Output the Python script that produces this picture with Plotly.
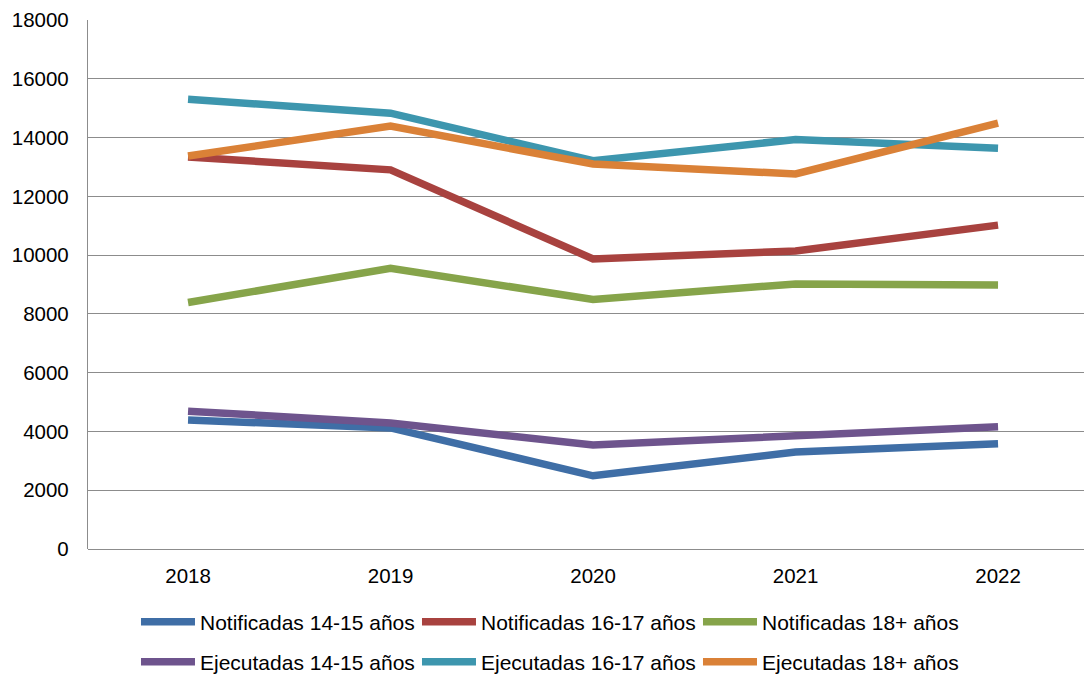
import plotly.graph_objects as go

years = ["2018", "2019", "2020", "2021", "2022"]
series_names = [
    "Notificadas 14-15 años",
    "Notificadas 16-17 años",
    "Notificadas 18+ años",
    "Ejecutadas 14-15 años",
    "Ejecutadas 16-17 años",
    "Ejecutadas 18+ años",
]
notif_14_15 = [4390, 4120, 2490, 3300, 3580]
notif_16_17 = [13340, 12900, 9870, 10140, 11020]
notif_18 = [8390, 9550, 8490, 9020, 8980]
ejec_14_15 = [4690, 4290, 3540, 3880, 4160]
ejec_16_17 = [15300, 14830, 13210, 13930, 13640]
ejec_18 = [13370, 14390, 13100, 12760, 14490]
values = [notif_14_15, notif_16_17, notif_18, ejec_14_15, ejec_16_17, ejec_18]
colors = ["#3F6EA6", "#A8423F", "#86A44A", "#6E548D", "#3D96AE", "#DA8137"]
y_ticks = [0, 2000, 4000, 6000, 8000, 10000, 12000, 14000, 16000, 18000]

font_family = "Liberation Sans, Arial, sans-serif"

fig = go.Figure()
for i, (name, vals, col) in enumerate(zip(series_names, values, colors)):
    fig.add_trace(go.Scatter(
        x=years, y=vals, name=name, mode="lines",
        line=dict(color=col, width=7.5),
        legend="legend" if i < 3 else "legend2",
    ))

legend_common = dict(
    orientation="h", xanchor="left", yanchor="middle",
    font=dict(family=font_family, size=21, color="#000000"),
    entrywidth=212, entrywidthmode="pixels",
    itemwidth=54,
    bgcolor="rgba(0,0,0,0)",
    traceorder="normal",
)

# page body has an 8px default margin, so the figure is sized to fit the window
fig.update_layout(
    width=1084, height=667,
    margin=dict(l=80, r=0, t=12, b=126, autoexpand=False),
    paper_bgcolor="white", plot_bgcolor="white",
    font=dict(family=font_family, size=20.5, color="#000000"),
    showlegend=True,
    legend=dict(x=0.0478, y=-0.138, **legend_common),
    legend2=dict(x=0.0478, y=-0.2136, **legend_common),
    xaxis=dict(
        type="category", range=[-0.494, 4.464],
        showgrid=False, showline=False, zeroline=False,
        ticks="", ticklabelstandoff=12,
        tickfont=dict(family=font_family, size=20.5, color="#000000"),
        fixedrange=True,
    ),
    yaxis=dict(
        range=[0, 18000], tickvals=y_ticks,
        ticktext=[str(v) for v in y_ticks],
        showgrid=True, gridcolor="#8C8C8C", gridwidth=1.3,
        showline=True, linecolor="#8C8C8C", linewidth=1.3,
        zeroline=True, zerolinecolor="#8C8C8C", zerolinewidth=1.3,
        ticks="", ticklabelstandoff=14,
        tickfont=dict(family=font_family, size=20.5, color="#000000"),
        fixedrange=True,
    ),
)

fig.write_html("out.html")
